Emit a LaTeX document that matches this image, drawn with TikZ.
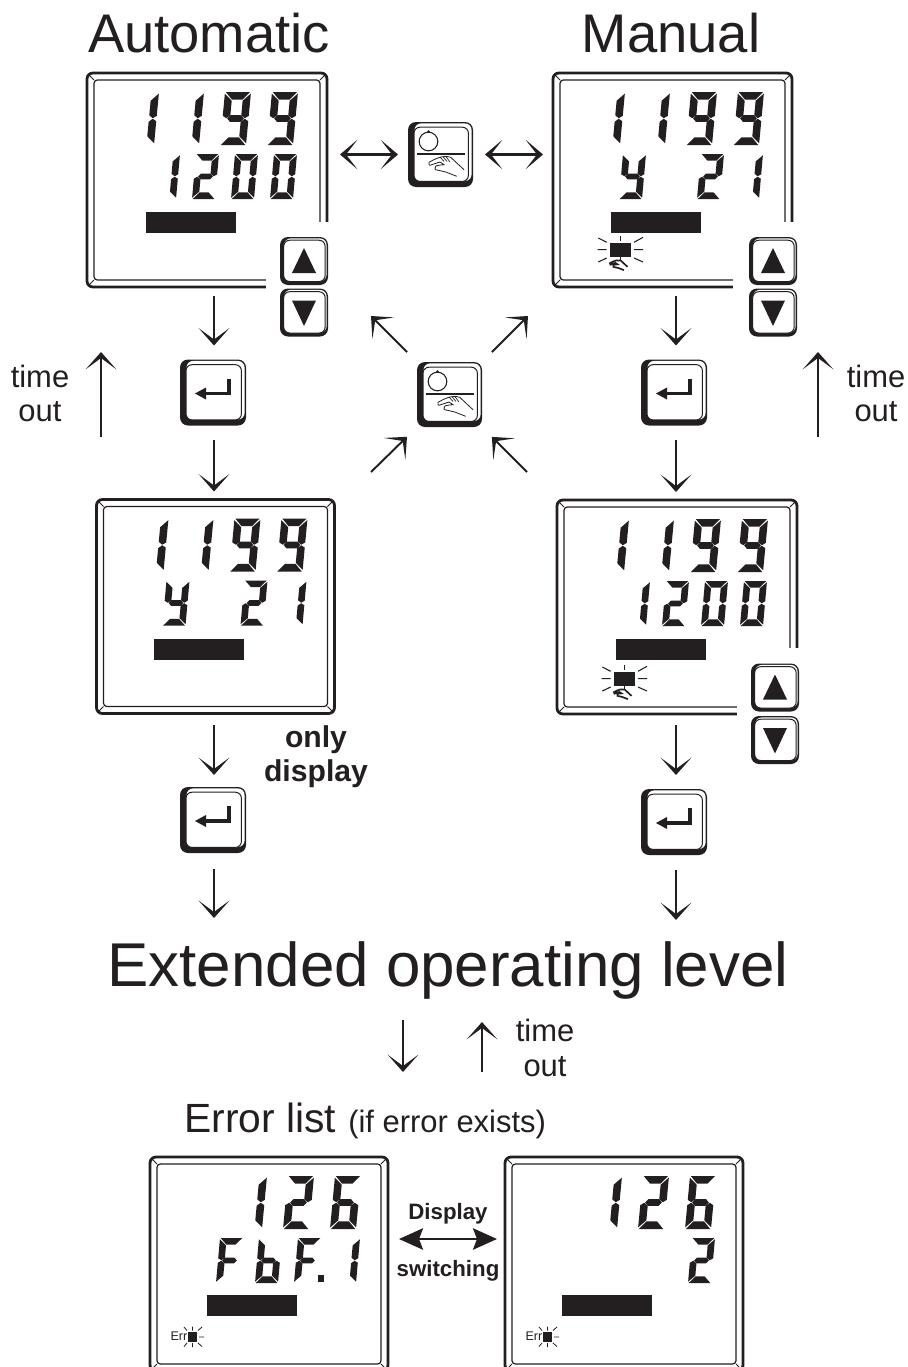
\documentclass[tikz,border=0pt]{standalone}
\usepackage{fontspec}
\setmainfont{Liberation Sans}
\usetikzlibrary{arrows.meta,calc}
\definecolor{ink}{HTML}{231F20}
\def\sega{(.03,0)--(.97,0)--(.70,.145)--(.30,.145)--cycle}
\def\segb{(1,.03)--(1,.45)--(.855,.495)--(.71,.44)--(.71,.165)--cycle}
\def\segc{(1,.55)--(1,.97)--(.71,.835)--(.71,.56)--(.855,.505)--cycle}
\def\segd{(.30,.855)--(.70,.855)--(.97,1)--(.03,1)--cycle}
\def\sege{(0,.55)--(.145,.505)--(.29,.56)--(.29,.835)--(0,.97)--cycle}
\def\segf{(0,.03)--(.29,.165)--(.29,.44)--(.145,.495)--(0,.45)--cycle}
\def\segg{(.18,.50)--(.30,.435)--(.70,.435)--(.82,.50)--(.70,.565)--(.30,.565)--cycle}
\def\dOne{b,c}
\def\dTwo{a,b,g,e,d}
\def\dSix{a,f,g,e,c,d}
\def\dNine{a,b,c,d,f,g}
\def\dZero{a,b,c,d,e,f}
\def\dY{b,c,d,f,g}
\def\dF{a,e,f,g}
\def\dB{c,d,e,f,g}
% digit: x, y, body width, height, slant, list
\newcommand{\segdig}[6]{%
  \begin{scope}[shift={(#1+#5,#2)},x={(#3*.75pt,0pt)},y={(-#5*.75pt,-#4*.75pt)}]
    \foreach \k in #6 {%
      \expandafter\let\expandafter\curseg\csname seg\k\endcsname
      \fill \curseg;}
  \end{scope}}
\newcommand{\rowA}[2]{\segdig{#1}{19}{26}{53}{5}{#2}}
\newcommand{\rowB}[2]{\segdig{#1}{81}{23}{45}{4}{#2}}
% name, cx, cy, width
\newcommand{\dispbox}[4]{%
  \node[dispnode,minimum width=#4*.75pt] (#1) at (#2,#3) {};
  \begin{scope}[shift={(#1.north west)}]
    \draw[dispinner] (7,7) rectangle (#4-7,207);
    \draw[dispdiag] (2,2)--(7,7) (#4-2,2)--(#4-7,7) (2,212)--(7,207) (#4-2,212)--(#4-7,207);
  \end{scope}}
% name, cx, cy, size, inset factor
\newcommand{\keybox}[5]{%
  \node[keynode,minimum size=#4*.75pt] (#1) at (#2,#3) {};
  \begin{scope}[shift={(#1.north west)}]
    \fill[rounded corners=6pt] (0,0) rectangle (#4,#4);
    \fill[white,rounded corners=5pt] (#5*6.5,1.4) rectangle (#4-1.4,#4-#5*6);
    \draw[fill=white,line width=.75pt,rounded corners=4.5pt] (#5*6,#5*5.2) rectangle (#4-#5*4.6,#4-#5*5.6);
  \end{scope}}
\newcommand{\handpath}{%
  (56,47.7)--(42.7,35.3) .. controls (38,33.5) and (32,34) .. (21,40.3)
  .. controls (20.5,42) and (21,43) .. (22,43.3) -- (32,40) -- (36,42.7)
  .. controls (32,43) and (28,43.5) .. (27.7,44.3) .. controls (26.5,46) and (27,47.2) .. (27.7,47.7)
  .. controls (31,48.5) and (34,49) .. (37.7,50) -- (48.7,54.3)}
\newcommand{\enterglyph}[1]{%
  \begin{scope}[shift={(#1.north west)}]
    \draw[line width=2.5pt] (49,19)--(49,34)--(24,34);
    \fill (15,34)--(26,28)--(26,40)--cycle;
  \end{scope}}
\newcommand{\fnglyph}[1]{%
  \begin{scope}[shift={(#1.north west)}]
    \draw[line width=.8pt] (20.5,19.5) circle[radius=7pt];
    \fill (20.5,9.5) circle[radius=1.1pt];
    \draw[line width=.9pt] (9,32)--(57,32);
    \draw[line width=.6pt] \handpath;
    \draw[line width=.5pt] (32,35)--(36,39.5) (35,34.7)--(39,39.5) (38,34.7)--(42,40);
  \end{scope}}
\newcommand{\manlamp}[2]{%
  \begin{scope}[shift={(#1,#2)}]
    \fill (0,0) rectangle (21,14);
    \draw[line width=1.2pt] (10.5,-7)--(10.5,-2) (10.5,14)--(10.5,18);
    \draw[line width=.8pt] (-12.3,6.7)--(-3.3,6.7) (24,6.7)--(33,6.7)
      (-11.7,-5)--(-3.3,-.7) (24,-.7)--(33,-5.7) (-11.7,19)--(-3.3,15) (24,15)--(33,19);
    \begin{scope}[shift={(0,17)},scale=.5,shift={(-21,-34)}]
      \draw[line width=1.25pt] \handpath;
    \end{scope}
  \end{scope}}
\newcommand{\errlamp}[2]{%
  \begin{scope}[shift={(#1,#2)}]
    \fill (0,0) rectangle (9,9.5);
    \node[anchor=base east,inner sep=0pt,font=\fontsize{9.4}{9}\selectfont] at (-.5,8) {Err};
    \draw[line width=.6pt] (4.5,-5.5)--(4.5,-1.5) (4.5,11)--(4.5,15) (11,5)--(16,5)
      (-4,-5)--(-1,-1.5) (10,-1.5)--(14,-5) (-4,14.5)--(-1,11) (10,11)--(14,14.5);
  \end{scope}}
\newcommand{\udkeys}[5]{%
  \keybox{#1}{#3}{#4}{48}{.62}
  \keybox{#2}{#3}{#5}{48}{.62}
  \begin{scope}[shift={(#1.north west)}]
    \fill (24,11)--(36,36)--(12,36)--cycle;
  \end{scope}
  \begin{scope}[shift={(#2.north west)}]
    \fill (24,37.5)--(36,12)--(12,12)--cycle;
  \end{scope}}
% connector from bottom of #1 to top of #2 at the x of #3
\newcommand{\vconn}[5]{\draw[arr,shorten <=#4*.75pt,shorten >=#5*.75pt] (#3 |- #1.south) -- (#3 |- #2.north);}
\begin{document}
\begin{tikzpicture}[x=.75pt,y=-.75pt,color=ink,
  dispnode/.style={draw,line width=2.1pt,rounded corners=4.5pt,minimum height=160.5pt,inner sep=0pt,outer sep=0pt},
  dispinner/.style={line width=.9pt,rounded corners=2.5pt},
  dispdiag/.style={line width=.7pt},
  keynode/.style={inner sep=0pt,outer sep=0pt},
  barnode/.style={fill,inner sep=0pt,minimum width=67.5pt,minimum height=15.75pt},
  arr/.style={line width=1.45pt,-{Stealth[length=13pt,width=23pt,inset=8.5pt]}},
  darr/.style={line width=1.6pt,{Stealth[length=13pt,width=22pt,inset=8.5pt]}-{Stealth[length=13pt,width=22pt,inset=8.5pt]}},
  boldarr/.style={line width=2pt,{Stealth[length=18pt,width=16pt,inset=3pt]}-{Stealth[length=18pt,width=16pt,inset=3pt]}},
  big/.style={anchor=base,inner sep=0pt,font=\fontsize{40.8}{48}\selectfont},
  mid/.style={anchor=base,inner sep=0pt,font=\fontsize{23.2}{27}\selectfont},
  bd/.style={anchor=base,inner sep=0pt,font=\bfseries\fontsize{22.6}{27}\selectfont},
  bds/.style={anchor=base,inner sep=0pt,font=\bfseries\fontsize{16.7}{20}\selectfont}]
\useasboundingbox (0,0) rectangle (907,1367);
\fill[white] (0,0) rectangle (907,1367);

% Titles
\node[big] (tA) at (209,52) {Automatic};
\node[big] (tM) at (671,52) {Manual};
\node[anchor=base,inner sep=0pt,font=\fontsize{46.4}{54}\selectfont] (tE) at (448,986.5) {Extended operating level};
\node[anchor=base west,inner sep=0pt,font=\fontsize{30.6}{36}\selectfont] (tL) at (184,1132) {Error list};
\node[mid,anchor=base west] (tL2) at (348,1132) {(if error exists)};

% Displays
\dispbox{d1}{207}{180}{240}
\begin{scope}[shift={(d1.north west)}]
  \rowA{41}{\dOne}\rowA{86}{\dOne}\rowA{133}{\dNine}\rowA{180}{\dNine}
  \rowB{66}{\dOne}\rowB{105}{\dTwo}\rowB{144}{\dZero}\rowB{183}{\dZero}
  \node[barnode,anchor=north west] (b1) at (59,139) {};
  \fill[white] (179,149) rectangle (250,222);
\end{scope}
\dispbox{d2}{672.5}{180}{239}
\begin{scope}[shift={(d2.north west)}]
  \rowA{41}{\dOne}\rowA{86}{\dOne}\rowA{133}{\dNine}\rowA{180}{\dNine}
  \rowB{66}{\dY}\rowB{144}{\dTwo}\rowB{183}{\dOne}
  \node[barnode,anchor=north west] (b2) at (58,139) {};
  \manlamp{57}{170}
  \fill[white] (180,149) rectangle (250,222);
\end{scope}
\dispbox{d3}{215.5}{606.5}{238}
\begin{scope}[shift={(d3.north west)}]
  \rowA{41}{\dOne}\rowA{86}{\dOne}\rowA{133}{\dNine}\rowA{180}{\dNine}
  \rowB{66}{\dY}\rowB{144}{\dTwo}\rowB{183}{\dOne}
  \node[barnode,anchor=north west] (b3) at (57,139) {};
\end{scope}
\dispbox{d4}{677}{607}{240}
\begin{scope}[shift={(d4.north west)}]
  \rowA{41}{\dOne}\rowA{86}{\dOne}\rowA{133}{\dNine}\rowA{180}{\dNine}
  \rowB{66}{\dOne}\rowB{105}{\dTwo}\rowB{144}{\dZero}\rowB{183}{\dZero}
  \node[barnode,anchor=north west] (b4) at (59,139) {};
  \manlamp{57}{172}
  \fill[white] (180,148) rectangle (250,222);
\end{scope}
\dispbox{d5}{269}{1264}{238}
\begin{scope}[shift={(d5.north west)}]
  \rowA{86}{\dOne}\rowA{133}{\dTwo}\rowA{180}{\dSix}
  \rowB{66}{\dF}\rowB{105}{\dB}\rowB{144}{\dF}\rowB{183}{\dOne}
  \fill (168,118) rectangle (174,125);
  \node[barnode,anchor=north west] (b5) at (57,138) {};
  \errlamp{38}{175}
\end{scope}
\dispbox{d6}{624}{1264}{238}
\begin{scope}[shift={(d6.north west)}]
  \rowA{86}{\dOne}\rowA{133}{\dTwo}\rowA{180}{\dSix}
  \rowB{183}{\dTwo}
  \node[barnode,anchor=north west] (b6) at (57,138) {};
  \errlamp{38}{175}
\end{scope}

% Keys
\udkeys{u1}{v1}{304}{261}{312.5}
\udkeys{u2}{v2}{773}{261}{312.5}
\udkeys{u4}{v4}{775}{687.5}{740}
\keybox{fn1}{440.5}{154.5}{65}{1}\fnglyph{fn1}
\keybox{fn2}{449.5}{394.5}{65}{1}\fnglyph{fn2}
\keybox{ke1}{213}{392.5}{66}{1}\enterglyph{ke1}
\keybox{ke2}{674}{392.5}{66}{1}\enterglyph{ke2}
\keybox{ke3}{213}{820}{66}{1}\enterglyph{ke3}
\keybox{ke4}{674}{822}{66}{1}\enterglyph{ke4}

% Free ends
\coordinate (e3) at (213,918);
\coordinate (e4) at (676,920);
\coordinate (tl1) at (101,437);
\coordinate (tl2) at (101,352);
\coordinate (tr1) at (818,437);
\coordinate (tr2) at (818,352);
\coordinate (c1) at (371,316);
\coordinate (c2) at (528,316);
\coordinate (c3) at (371,472);
\coordinate (c4) at (527,472);
\coordinate (dn1) at (403,1020);
\coordinate (dn2) at (403,1072);
\coordinate (up1) at (482,1072);
\coordinate (up2) at (482,1022);
\coordinate (sw) at (448,1239);
\coordinate (x1) at (214,0);
\coordinate (x2) at (676,0);

% Connectors
\vconn{d1}{ke1}{x1}{9}{14}
\draw[arr,shorten <=14*.75pt,shorten >=8*.75pt] (x1 |- ke1.south) -- (x1 |- d3.north);
\vconn{d3}{ke3}{x1}{11}{12}
\draw[arr,shorten <=16*.75pt] (x1 |- ke3.south) -- (x1 |- e3);
\vconn{d2}{ke2}{x2}{9}{14}
\draw[arr,shorten <=14*.75pt,shorten >=8*.75pt] (x2 |- ke2.south) -- (x2 |- d4.north);
\vconn{d4}{ke4}{x2}{11}{14}
\draw[arr,shorten <=15*.75pt] (x2 |- ke4.south) -- (x2 |- e4);
\draw[arr] (tl1) -- (tl2);
\draw[arr] (tr1) -- (tr2);
\draw[darr,shorten <=13*.75pt,shorten >=10*.75pt] (d1.east |- fn1.west) -- (fn1.west);
\draw[darr,shorten <=12*.75pt,shorten >=10*.75pt] (fn1.east) -- (fn1.east -| d2.west);
\draw[arr,shorten <=14*.75pt] (fn2.north west) -- (c1);
\draw[arr,shorten <=14*.75pt] (fn2.north east) -- (c2);
\draw[arr,shorten >=14*.75pt] (c3) -- (fn2.south west);
\draw[arr,shorten >=14*.75pt] (c4) -- (fn2.south east);
\draw[arr] (dn1) -- (dn2);
\draw[arr] (up1) -- (up2);
\draw[boldarr,shorten <=11*.75pt,shorten >=8*.75pt] (d5.east |- sw) -- (d6.west |- sw);

% Labels
\node[mid] (to1) at (40,387) {time};
\node[mid] (to2) at (40,421) {out};
\node[mid] (to3) at (876,387) {time};
\node[mid] (to4) at (876,421) {out};
\node[mid] (to5) at (545,1041) {time};
\node[mid] (to6) at (545,1076) {out};
\node[bd] (od1) at (316,747) {only};
\node[bd] (od2) at (316,781) {display};
\node[bds] (ds1) at (448,1219) {Display};
\node[bds] (ds2) at (448,1276.5) {switching};
\end{tikzpicture}
\end{document}
